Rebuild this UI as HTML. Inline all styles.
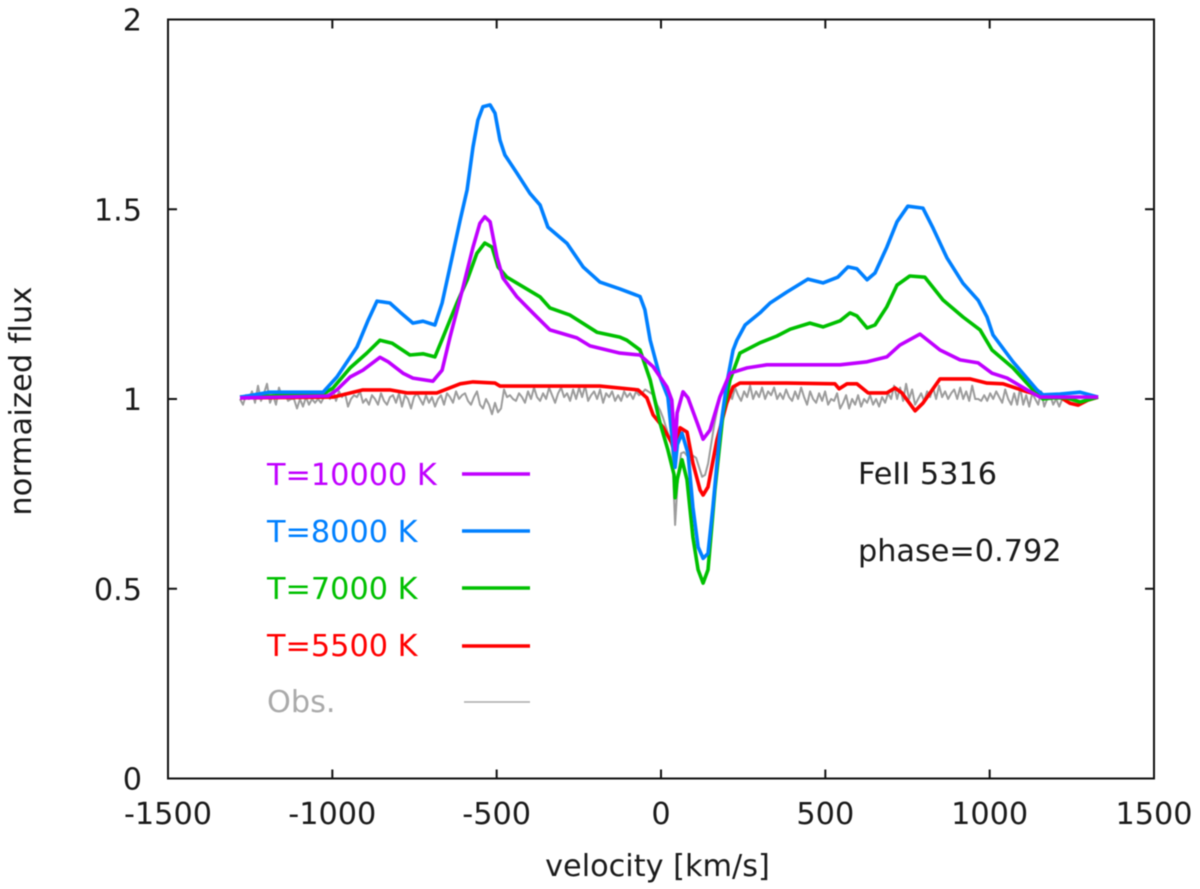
<!DOCTYPE html>
<html lang="en">
<head>
<meta charset="utf-8">
<title>FeII 5316 line profile</title>
<style>
html,body{margin:0;padding:0;background:#fff;}
#chart{display:block;width:1200px;height:889px;filter:blur(0.45px);}
text{font-family:"DejaVu Sans","Liberation Sans",sans-serif;font-size:30.3px;fill:#1a1a1a;}
</style>
</head>
<body>
<svg id="chart" xmlns="http://www.w3.org/2000/svg" width="1200" height="889" viewBox="0 0 1200 889">
  <g id="series"></g>
  <rect x="168" y="19.5" width="986" height="759" fill="none" stroke="#111" stroke-width="2"/>
  <g id="ticks"></g>
  <text x="657.5" y="876" text-anchor="middle">velocity [km/s]</text>
  <text transform="translate(31,401) rotate(-90)" text-anchor="middle" style="letter-spacing:0.25px">normaized flux</text>

  <text x="267" y="485" style="fill:#c000ff">T=10000 K</text>
  <line x1="462" x2="530" y1="474" y2="474" stroke="#c000ff" stroke-width="3.5"/>
  <text x="267" y="542" style="fill:#0080ff">T=8000 K</text>
  <line x1="462" x2="530" y1="531" y2="531" stroke="#0080ff" stroke-width="3.5"/>
  <text x="267" y="599" style="fill:#00c000">T=7000 K</text>
  <line x1="462" x2="530" y1="588" y2="588" stroke="#00c000" stroke-width="3.5"/>
  <text x="267" y="656" style="fill:#ff0000">T=5500 K</text>
  <line x1="462" x2="530" y1="646" y2="646" stroke="#ff0000" stroke-width="3.5"/>
  <text x="267" y="712" style="fill:#aaaaaa">Obs.</text>
  <line x1="464" x2="530" y1="702" y2="702" stroke="#aaaaaa" stroke-width="1.6"/>

  <text x="858" y="484">FeII 5316</text>
  <text x="858" y="561">phase=0.792</text>
</svg>
<script>
const xTicks = [-1500, -1000, -500, 0, 500, 1000, 1500];
const yTicks = [0, 0.5, 1, 1.5, 2];
const yTickLabels = ['0', '0.5', '1', '1.5', '2'];

const blueV = [-1281,-1190,-1028,-986,-925,-891,-864,-825,-794,-755,-724,-688,-666,-642,-611,-590,-572,-557,-542,-520,-505,-490,-475,-438,-399,-368,-344,-286,-237,-186,-125,-64,-49,-33,-3,21,43,50,64,82,97,113,128,143,158,179,200,219,231,256,301,332,383,447,493,538,569,596,627,651,687,718,751,797,828,870,919,965,992,1010,1071,1144,1162,1214,1275,1330];
const blueF = [1.005,1.018,1.018,1.058,1.137,1.208,1.258,1.253,1.229,1.2,1.205,1.195,1.253,1.348,1.472,1.551,1.664,1.735,1.77,1.775,1.753,1.682,1.643,1.595,1.542,1.511,1.453,1.41,1.348,1.308,1.29,1.27,1.235,1.155,1.058,1.005,0.82,0.88,0.91,0.857,0.715,0.61,0.58,0.593,0.715,0.91,1.04,1.128,1.155,1.195,1.227,1.253,1.282,1.316,1.306,1.321,1.348,1.343,1.314,1.332,1.4,1.467,1.508,1.503,1.45,1.372,1.305,1.26,1.216,1.169,1.098,1.024,1.011,1.013,1.018,1.005];

const greenV = [-1281,-1028,-998,-946,-895,-855,-818,-764,-724,-688,-663,-621,-590,-560,-536,-514,-496,-469,-368,-338,-277,-195,-125,-104,-64,-33,-3,21,40,43,50,64,79,97,113,128,143,164,189,210,240,301,353,393,453,493,545,575,596,627,651,687,718,757,803,858,919,971,1007,1071,1132,1162,1192,1235,1275,1330];
const greenF = [1.005,1.013,1.029,1.082,1.121,1.155,1.147,1.116,1.119,1.111,1.163,1.253,1.313,1.384,1.411,1.4,1.348,1.321,1.269,1.24,1.221,1.176,1.163,1.155,1.129,1.05,0.937,0.866,0.8,0.74,0.79,0.84,0.787,0.636,0.55,0.515,0.55,0.76,0.963,1.05,1.121,1.148,1.166,1.184,1.2,1.19,1.206,1.227,1.219,1.187,1.195,1.243,1.3,1.324,1.321,1.261,1.216,1.182,1.129,1.082,1.024,1.0,1.003,1.003,0.992,1.005];

const purpleV = [-1281,-1013,-986,-946,-907,-855,-830,-785,-755,-694,-666,-642,-602,-572,-551,-536,-520,-499,-481,-438,-389,-338,-256,-216,-125,-64,-24,18,33,43,49,67,82,110,128,149,179,210,262,322,423,545,627,687,727,788,849,910,965,1007,1053,1114,1153,1330];
const purpleF = [1.003,1.008,1.024,1.058,1.076,1.11,1.098,1.068,1.055,1.047,1.076,1.163,1.295,1.4,1.463,1.48,1.467,1.374,1.319,1.269,1.226,1.182,1.161,1.14,1.121,1.116,1.085,1.032,0.997,0.866,0.963,1.019,1.003,0.937,0.894,0.918,1.005,1.068,1.082,1.09,1.09,1.09,1.098,1.111,1.142,1.171,1.129,1.103,1.095,1.068,1.055,1.024,1.005,1.005];

const redV = [-1281,-998,-968,-907,-825,-773,-682,-611,-572,-505,-490,-286,-186,-70,-43,-24,6,33,43,58,79,97,119,128,143,170,200,219,240,383,529,542,566,596,630,687,712,733,773,797,849,940,992,1041,1114,1162,1214,1244,1269,1299,1330];
const redF = [1.003,1.005,1.011,1.024,1.024,1.016,1.016,1.04,1.045,1.042,1.034,1.034,1.034,1.024,1.003,0.958,0.926,0.884,0.858,0.924,0.913,0.831,0.76,0.747,0.768,0.892,0.989,1.032,1.042,1.042,1.04,1.027,1.04,1.04,1.016,1.016,1.029,1.016,0.969,0.989,1.053,1.053,1.042,1.04,1.019,1.008,1.005,0.989,0.984,0.997,1.005];

const obsStartV = -1281;
const obsStepV = 9.13;
const obsF = [
1.0,0.985,1.01,1.0,1.02,0.99,1.035,0.995,1.015,1.04,
0.99,1.01,0.985,1.03,1.005,1.015,0.995,1.0,1.0,0.975,
1.0,0.98,1.005,0.985,1.0,0.99,1.0,0.99,1.005,1.015,
1.0,1.025,0.995,1.02,1.005,1.015,0.98,1.0,1.01,1.005,
1.02,0.99,1.0,0.985,1.01,1.0,0.985,1.015,0.995,0.985,
1.005,1.01,0.99,1.015,0.98,1.01,1.0,0.975,1.005,1.015,
1.0,0.985,1.01,0.99,1.005,0.98,1.0,1.01,
0.985,1.015,1.005,0.99,1.02,1.0,1.01,1.015,0.995,0.985,
1.005,1.02,0.985,0.975,1.0,0.985,0.96,0.99,0.965,0.975,
1.025,1.005,1.01,1.0,0.995,1.015,1.005,0.99,1.02,1.0,
1.03,1.005,0.995,1.015,1.0,1.03,1.01,0.99,1.015,1.03,
1.005,1.015,0.995,1.025,1.0,1.03,1.005,1.035,0.995,1.01,
1.02,1.0,1.025,0.99,1.015,1.005,1.02,0.995,1.01,0.995,
1.02,1.005,1.015,1.0,1.02,1.01,1.015,1.025,1.02,1.015,1.01,0.985,
0.97,0.95,0.925,0.90,0.87,0.668,0.80,0.857,0.86,0.85,
0.855,0.85,0.845,0.82,0.795,0.80,0.83,0.88,0.93,0.97,
1.005,1.025,1.01,1.02,1.0,1.03,1.01,0.995,1.02,1.005,
1.035,1.0,1.02,1.005,1.03,1.0,1.02,1.01,1.03,1.0,
1.015,1.0,1.025,1.005,0.995,1.02,1.0,1.03,1.005,0.985,
1.02,1.0,0.99,1.015,0.995,1.02,0.985,1.0,0.995,1.015,
0.975,0.99,1.01,0.975,1.0,0.985,1.01,0.98,1.0,0.99,
1.01,0.985,1.0,0.98,1.005,0.99,1.015,1.0,1.035,1.0,
1.03,0.995,1.04,1.0,1.025,0.985,1.0,1.015,0.995,1.02,
1.005,1.03,1.0,1.035,1.005,1.02,1.0,1.015,1.025,1.0,
1.03,1.0,1.02,0.995,1.035,1.0,1.0,0.995,1.01,0.995,
1.015,1.0,1.02,1.005,0.99,1.025,1.0,0.985,1.015,0.985,
1.03,0.985,1.01,0.98,1.015,1.0,0.985,1.02,0.98,1.0,
1.01,0.985,1.0,0.98,1.0,0.995,1.0
];

const XMIN = -1500, XMAX = 1500, YMIN = 0, YMAX = 2;
const PX0 = 168, PX1 = 1154, PY0 = 778.5, PY1 = 19.5;
const NS = 'http://www.w3.org/2000/svg';
function sx(v){ return PX0 + (v - XMIN) / (XMAX - XMIN) * (PX1 - PX0); }
function sy(f){ return PY0 - (f - YMIN) / (YMAX - YMIN) * (PY0 - PY1); }

const seriesLayer = document.getElementById('series');
function drawLine(vs, fs, color, width, name){
  const pts = vs.map(function(v, i){ return sx(v).toFixed(1) + ',' + sy(fs[i]).toFixed(1); }).join(' ');
  const el = document.createElementNS(NS, 'polyline');
  el.setAttribute('points', pts);
  el.setAttribute('fill', 'none');
  el.setAttribute('stroke', color);
  el.setAttribute('stroke-width', width);
  el.setAttribute('stroke-linejoin', 'round');
  
  
  seriesLayer.appendChild(el);
}
const obsV = obsF.map(function(_, i){ return obsStartV + i * obsStepV; });
drawLine(obsV, obsF, '#9c9c9c', 2, 'series-observed');
drawLine(redV, redF, '#ff0000', 3.6, 'series-t5500');
drawLine(greenV, greenF, '#00c000', 3.6, 'series-t7000');
drawLine(blueV, blueF, '#0080ff', 3.6, 'series-t8000');
drawLine(purpleV, purpleF, '#c000ff', 3.6, 'series-t10000');

const tickLayer = document.getElementById('ticks');
function addTick(x1, y1, x2, y2){
  const el = document.createElementNS(NS, 'line');
  el.setAttribute('x1', x1);
  el.setAttribute('y1', y1);
  el.setAttribute('x2', x2);
  el.setAttribute('y2', y2);
  el.setAttribute('stroke', '#111');
  el.setAttribute('stroke-width', '2');
  
  
  tickLayer.appendChild(el);
}
function addLabel(x, y, anchor, str, name){
  const el = document.createElementNS(NS, 'text');
  el.setAttribute('x', x);
  el.setAttribute('y', y);
  el.setAttribute('text-anchor', anchor);
  
  
  el.textContent = str;
  tickLayer.appendChild(el);
}
xTicks.forEach(function(t){
  const x = sx(t);
  if (t !== XMIN && t !== XMAX) {
    addTick(x, PY0, x, PY0 - 9);
    addTick(x, PY1, x, PY1 + 9);
  }
  addLabel(x, 824, 'middle', String(t), 'x-tick-label');
});
yTicks.forEach(function(t, i){
  const y = sy(t);
  if (t !== YMIN && t !== YMAX) {
    addTick(PX0, y, PX0 + 9, y);
    addTick(PX1, y, PX1 - 9, y);
  }
  addLabel(142, y + 11, 'end', yTickLabels[i], 'y-tick-label');
});
</script>
</body>
</html>
